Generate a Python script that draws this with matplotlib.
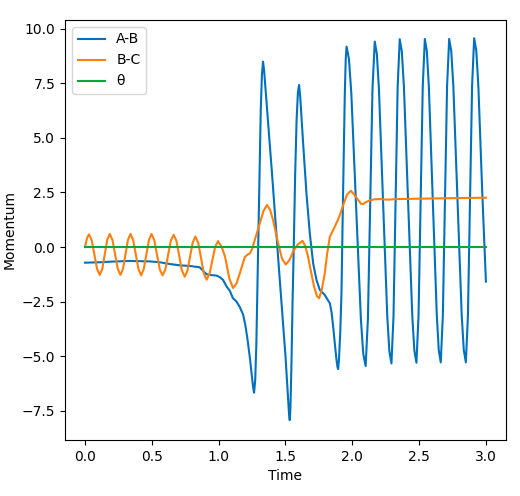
import matplotlib
matplotlib.use("Agg")
import matplotlib.pyplot as plt

# Time / momentum samples
t_ab = [0, 0.11, 0.2, 0.335, 0.484, 0.56, 0.634, 0.709, 0.784, 0.858, 0.885, 0.909, 0.95, 0.984,
        1.008, 1.033, 1.061, 1.083, 1.106, 1.133, 1.158, 1.183, 1.2, 1.215, 1.233, 1.25, 1.258,
        1.265, 1.2734, 1.2818, 1.2985, 1.315, 1.3237, 1.332, 1.34, 1.35, 1.40, 1.45, 1.50, 1.52,
        1.527, 1.532, 1.537, 1.545, 1.553, 1.562, 1.572, 1.583, 1.593, 1.602, 1.61, 1.632, 1.657,
        1.682, 1.707, 1.732, 1.757, 1.794, 1.832, 1.845, 1.857, 1.872, 1.882, 1.889, 1.894, 1.90,
        1.91, 1.919, 1.931, 1.944, 1.951, 1.957,
        1.9749, 1.9928, 2.0285, 2.0643, 2.0821, 2.10,
        2.117, 2.134, 2.151, 2.168,
        2.1836, 2.1993, 2.2305, 2.2618, 2.2774, 2.293,
        2.3085, 2.324, 2.3395, 2.355,
        2.3706, 2.3863, 2.4175, 2.4488, 2.4644, 2.48,
        2.4958, 2.5115, 2.5273, 2.543,
        2.5579, 2.5728, 2.6025, 2.6323, 2.6471, 2.662,
        2.6778, 2.6935, 2.7093, 2.725,
        2.7406, 2.7563, 2.7875, 2.8188, 2.8344, 2.85,
        2.8655, 2.881, 2.8965, 2.912,
        2.928, 2.944, 2.972, 3.0]
p_ab = [-0.72, -0.70, -0.67, -0.64, -0.66, -0.70, -0.78, -0.84, -0.87, -0.93, -1.1, -1.25, -1.29, -1.31,
        -1.38, -1.51, -1.83, -2.0, -2.34, -2.5, -2.75, -3.1, -3.6, -4.2, -5.05, -6.0, -6.45,
        -6.68, -6.1, -4.5, 0.9, 6.3, 7.9, 8.5, 8.1, 7.3, 3.3, -0.9, -5.0, -7.0,
        -7.7, -7.94, -7.4, -5.3, -2.5, 0.0, 3.2, 5.8, 7.1, 7.43, 6.9, 4.76, 2.46,
        0.63, -0.75, -1.51, -1.97, -2.2, -2.58, -3.0, -3.66, -4.6, -5.18, -5.5, -5.6, -5.2,
        -3.9, -2.12, 2.46, 7.05, 8.6, 9.19,
        8.63, 7.04, 1.87, -3.31, -4.90, -5.46,
        -3.28, 1.98, 7.24, 9.42,
        8.86, 7.26, 2.04, -3.18, -4.78, -5.34,
        -3.16, 2.10, 7.35, 9.53,
        8.97, 7.36, 2.11, -3.14, -4.75, -5.31,
        -3.13, 2.12, 7.36, 9.54,
        8.98, 7.37, 2.13, -3.12, -4.73, -5.29,
        -3.12, 2.13, 7.37, 9.54,
        8.98, 7.37, 2.13, -3.12, -4.73, -5.29,
        -3.11, 2.14, 7.39, 9.57,
        9.0, 7.3, 2.6, -1.59]

t_bc = [0, 0.015, 0.03, 0.05, 0.07, 0.09, 0.11, 0.129, 0.1475, 0.166, 0.185, 0.205, 0.225, 0.245,
        0.265, 0.284, 0.3025, 0.321, 0.34, 0.36, 0.38, 0.40, 0.42, 0.439, 0.4585, 0.478, 0.497,
        0.518, 0.5385, 0.559, 0.58, 0.601, 0.6215, 0.642, 0.663, 0.684, 0.7045, 0.725, 0.746,
        0.766, 0.786, 0.806, 0.826, 0.847, 0.868, 0.889, 0.91, 0.931, 0.9525, 0.974, 0.995,
        1.023, 1.048, 1.08, 1.108, 1.135, 1.158, 1.195, 1.215, 1.233, 1.25, 1.27, 1.308, 1.335,
        1.362, 1.385, 1.407, 1.445, 1.475, 1.502, 1.53, 1.557, 1.59, 1.627, 1.648, 1.669, 1.69,
        1.714, 1.735, 1.752, 1.772, 1.794, 1.812, 1.832, 1.869, 1.90, 1.931, 1.96, 1.989, 2.015,
        2.044, 2.065, 2.081, 2.10, 2.131, 2.17, 2.206, 2.256, 2.35, 2.55, 2.75, 3.0]
p_bc = [0.0, 0.42, 0.58, 0.31, -0.35, -1.01, -1.28, -1.005, -0.34, 0.325, 0.60, 0.325, -0.34, -1.005,
        -1.28, -1.005, -0.34, 0.325, 0.60, 0.32, -0.35, -1.02, -1.30, -1.02, -0.35, 0.32, 0.60,
        0.32, -0.35, -1.02, -1.30, -1.03, -0.37, 0.29, 0.56, 0.28, -0.40, -1.08, -1.36,
        -1.09, -0.44, 0.21, 0.48, 0.19, -0.51, -1.21, -1.50, -1.24, -0.615, 0.01, 0.27,
        0.0, -0.45, -1.45, -1.88, -1.65, -1.21, -0.47, -0.35, -0.30, -0.1, 0.32, 1.09, 1.65,
        1.93, 1.7, 1.24, 0.17, -0.55, -0.80, -0.6, -0.21, 0.1, 0.28, 0.05, -0.44, -1.1,
        -1.82, -2.25, -2.35, -1.95, -1.21, -0.3, 0.47, 0.93, 1.35, 1.9, 2.4, 2.58, 2.4,
        2.16, 1.98, 1.97, 2.05, 2.14, 2.19, 2.2, 2.17, 2.2, 2.22, 2.24, 2.26]

t_theta = [0.0, 3.0]
p_theta = [0.0, 0.0]

labels = ["A-B", "B-C", "θ"]
colors = ["#0072bd", "#ff7f0e", "#0fa53a"]

fig = plt.figure(figsize=(5.2, 4.96), dpi=100)
ax = fig.add_axes([0.125, 0.1129, 0.848, 0.8468])
ax.plot(t_ab, p_ab, color=colors[0], lw=1.5, label=labels[0])
ax.plot(t_bc, p_bc, color=colors[1], lw=1.5, label=labels[1])
ax.plot(t_theta, p_theta, color=colors[2], lw=1.5, label=labels[2])
ax.set_xlim(-0.15, 3.15)
ax.set_ylim(-8.85, 10.41)
ax.set_xticks([0.0, 0.5, 1.0, 1.5, 2.0, 2.5, 3.0])
ax.set_yticks([-7.5, -5.0, -2.5, 0.0, 2.5, 5.0, 7.5, 10.0])
ax.set_xlabel("Time")
ax.set_ylabel("Momentum")
ax.legend(loc="upper left")
fig.savefig("out.png", dpi=100)
